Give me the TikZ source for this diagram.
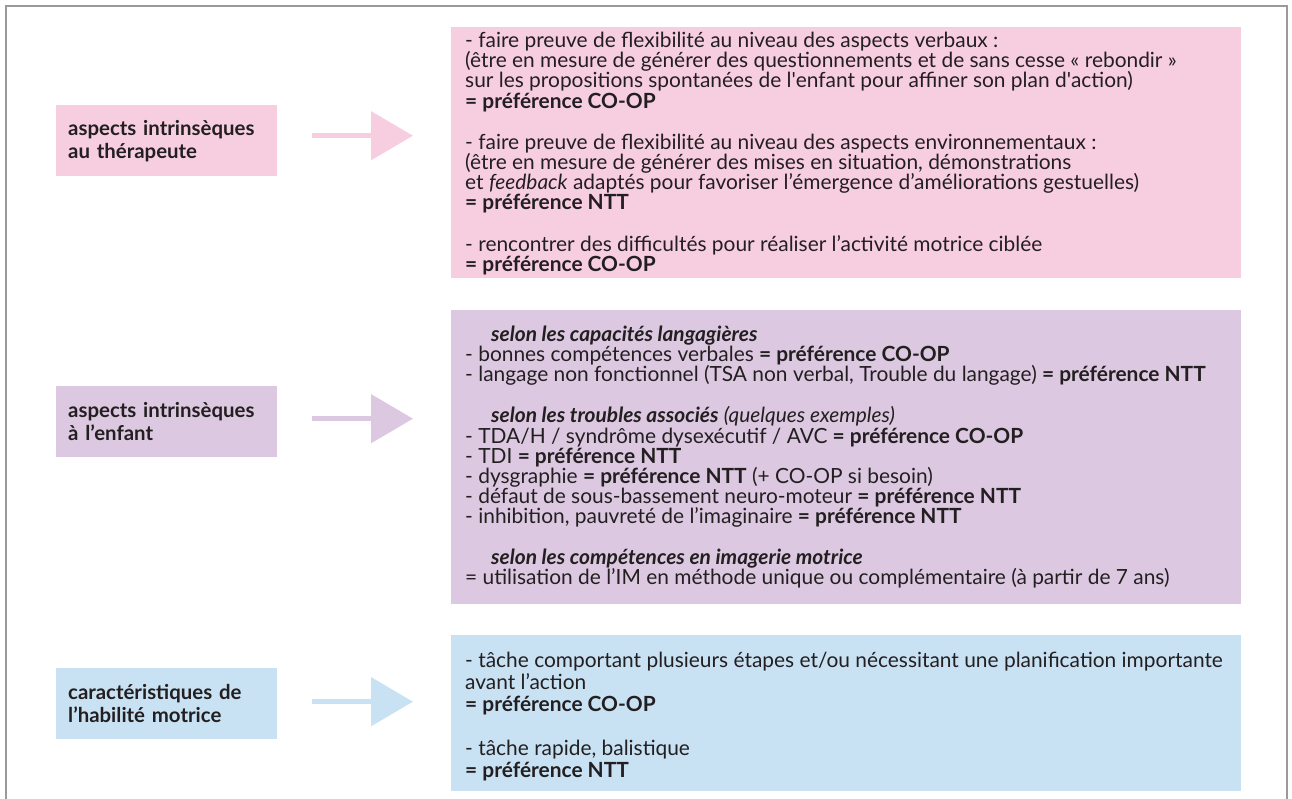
\documentclass[tikz,border=0pt]{standalone}
\usepackage{fontspec}
\setmainfont{Lato}
\newfontfamily\plainap{Lato}[Ligatures=TeXOff]
\usetikzlibrary{arrows.meta}
\definecolor{pinkc}{HTML}{F7CEE0}
\definecolor{purc}{HTML}{DCC8E1}
\definecolor{bluec}{HTML}{C8E2F4}
\definecolor{txt}{HTML}{231F20}
\definecolor{framec}{HTML}{9A9A9A}
\newcommand\sq{{\plainap '}}
\newcommand\ind{\hspace*{26pt}}
\tikzset{
  lbox/.style={anchor=north west, minimum width=221pt, minimum height=71pt,
    inner xsep=12pt, inner ysep=0pt, text width=197pt, align=left,
    font=\fontsize{20.4}{23}\selectfont\bfseries, text=txt},
  rbox/.style={anchor=north west, minimum width=790pt, inner sep=0pt},
  rtext/.style={anchor=north west, inner sep=0pt, align=left, text=txt,
    font=\fontsize{20.9}{20.2}\selectfont},
  arr/.style={line width=5pt, -{Triangle[length=42pt,width=48pt]}}
}
\begin{document}
\setlength{\lineskiplimit}{-20pt}
\begin{tikzpicture}[x=1pt,y=-1pt]
\useasboundingbox (0,0) rectangle (1292,799);
\draw[framec, line width=1.3pt] (6,799) -- (6,6) -- (1287,6) -- (1287,799);

% left boxes
\node[lbox, fill=pinkc] (l1) at (56,105) {aspects intrinsèques\\au thérapeute};
\node[lbox, fill=purc] (l2) at (56,386) {aspects intrinsèques\\à l’enfant};
\node[lbox, fill=bluec] (l3) at (56,668) {caractéristiques de\\l’habilité motrice};

% right boxes
\node[rbox, fill=pinkc, minimum height=251pt] (r1) at (451,27) {};
\node[rbox, fill=purc, minimum height=294pt] (r2) at (451,310) {};
\node[rbox, fill=bluec, minimum height=156pt] (r3) at (451,635) {};

% arrows
\coordinate (a1s) at ([xshift=35pt,yshift=5pt]l1.east);
\coordinate (a1e) at ([xshift=-38pt]r1.west |- a1s);
\coordinate (a2s) at ([xshift=35pt,yshift=3pt]l2.east);
\coordinate (a2e) at ([xshift=-38pt]r2.west |- a2s);
\coordinate (a3s) at ([xshift=35pt,yshift=2pt]l3.east);
\coordinate (a3e) at ([xshift=-38pt]r3.west |- a3s);
\draw[arr, pinkc] (a1s) -- (a1e);
\draw[arr, purc] (a2s) -- (a2e);
\draw[arr, bluec] (a3s) -- (a3e);

% texts
\node[rtext] (t1) at ([xshift=14pt,yshift=-5pt]r1.north west) {%
- faire preuve de flexibilité au niveau des aspects verbaux :\\
(être en mesure de générer des questionnements et de sans cesse « rebondir »\\
sur les propositions spontanées de l\sq enfant pour affiner son plan d\sq action)\\
\textbf{= préférence CO-OP}\\[21pt]
- faire preuve de flexibilité au niveau des aspects environnementaux :\\
(être en mesure de générer des mises en situation, démonstrations\\
et \textit{feedback} adaptés pour favoriser l’émergence d’améliorations gestuelles)\\
\textbf{= préférence NTT}\\[21pt]
- rencontrer des difficultés pour réaliser l’activité motrice ciblée\\
\textbf{= préférence CO-OP}};

\node[rtext] (t2) at ([xshift=14pt,yshift=-15.5pt]r2.north west) {%
\ind\textbf{\textit{selon les capacités langagières}}\\
- bonnes compétences verbales \textbf{= préférence CO-OP}\\
- langage non fonctionnel (TSA non verbal, Trouble du langage) \textbf{= préférence NTT}\\[21pt]
\ind\textbf{\textit{selon les troubles associés}} \textit{(quelques exemples)}\\
- TDA/H / syndrôme dysexécutif / AVC \textbf{= préférence CO-OP}\\
- TDI \textbf{= préférence NTT}\\
- dysgraphie \textbf{= préférence NTT} (+ CO-OP si besoin)\\
- défaut de sous-bassement neuro-moteur \textbf{= préférence NTT}\\
- inhibition, pauvreté de l’imaginaire \textbf{= préférence NTT}\\[20pt]
\ind\textbf{\textit{selon les compétences en imagerie motrice}}\\
= utilisation de l’IM en méthode unique ou complémentaire (à partir de 7 ans)};

\node[rtext, font=\fontsize{20.9}{21.8}\selectfont] (t3) at ([xshift=14pt,yshift=-17pt]r3.north west) {%
- tâche comportant plusieurs étapes et/ou nécessitant une planification importante\\
avant l’action\\
\textbf{= préférence CO-OP}\\[22.5pt]
- tâche rapide, balistique\\
\textbf{= préférence NTT}};
\end{tikzpicture}
\end{document}
